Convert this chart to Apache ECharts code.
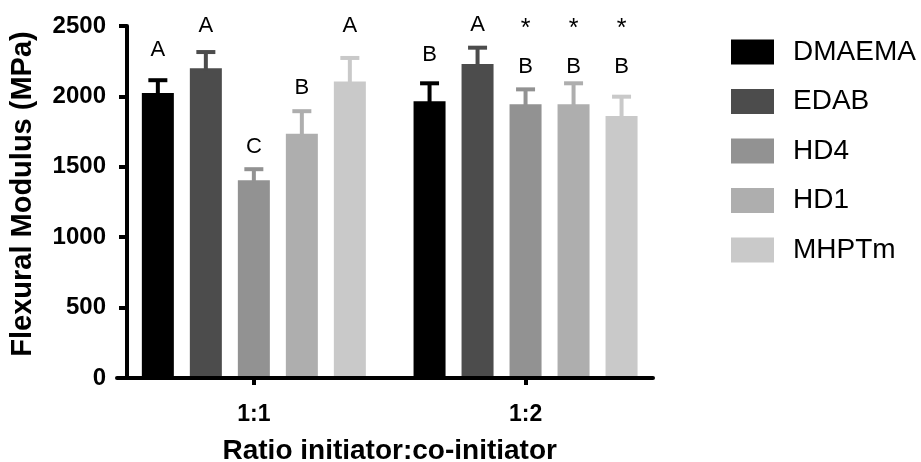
<!DOCTYPE html>
<html>
<head>
<meta charset="utf-8">
<script src="https://cdn.jsdelivr.net/npm/echarts@6/dist/echarts.min.js"></script>
<style>html,body{margin:0;padding:0;background:#fff}#c{width:921px;height:462px}</style>
</head>
<body>
<div id="c"></div>
<script>
const categories = ['1:1', '1:2'];
const seriesNames = ['DMAEMA', 'EDAB', 'HD4', 'HD1', 'MHPTm'];
const yTicks = [0, 500, 1000, 1500, 2000, 2500];

// mean flexural modulus (MPa)
const meanDMAEMA = [2025, 1965];
const meanEDAB   = [2200, 2230];
const meanHD4    = [1405, 1945];
const meanHD1    = [1735, 1945];
const meanMHPTm  = [2105, 1860];

// standard deviation (upper error bar, MPa)
const sdDMAEMA = [90, 128];
const sdEDAB   = [115, 116];
const sdHD4    = [78, 105];
const sdHD1    = [160, 148];
const sdMHPTm  = [168, 138];

// statistical letters and the level (MPa) at which they are written
const letDMAEMA = ['A', 'B'];
const letEDAB   = ['A', 'A'];
const letHD4    = ['C', 'B'];
const letHD1    = ['B', 'B'];
const letMHPTm  = ['A', 'B'];
const lvlDMAEMA = [2330, 2294];
const lvlEDAB   = [2500, 2507];
const lvlHD4    = [1640, 2210];
const lvlHD1    = [2060, 2210];
const lvlMHPTm  = [2500, 2210];

// asterisks (group 1:2 only)
const starMarks = [['', '', '', '', ''], ['', '', '*', '*', '*']];
const starLevel = 2481;

const means = [meanDMAEMA, meanEDAB, meanHD4, meanHD1, meanMHPTm];
const sds = [sdDMAEMA, sdEDAB, sdHD4, sdHD1, sdMHPTm];
const lets = [letDMAEMA, letEDAB, letHD4, letHD1, letMHPTm];
const lvls = [lvlDMAEMA, lvlEDAB, lvlHD4, lvlHD1, lvlMHPTm];

const colors = ['#000000', '#4c4c4c', '#929292', '#aeaeae', '#c9c9c9'];
const FONT = "'Liberation Sans', Arial, Helvetica, sans-serif";
const BAR_W = 32, GAP_RATIO = 0.5;
const PITCH = BAR_W * (1 + GAP_RATIO);

const errData = [];
const textData = [];
const textStr = [];
const textSize = [];
for (let s = 0; s < seriesNames.length; s++) {
  for (let c = 0; c < categories.length; c++) {
    errData.push([c, means[s][c], sds[s][c], s]);
    textData.push([c, lvls[s][c], s]);
    textStr.push(lets[s][c]);
    textSize.push(22);
    if (starMarks[c][s]) {
      textData.push([c, starLevel, s]);
      textStr.push(starMarks[c][s]);
      textSize.push(25);
    }
  }
}

const barSeries = seriesNames.map((n, s) => ({
  name: n, type: 'bar', xAxisIndex: 0, yAxisIndex: 0,
  data: means[s], barWidth: BAR_W, barGap: (GAP_RATIO * 100) + '%',
  itemStyle: { color: colors[s] }, z: 2
}));

const chart = echarts.init(document.getElementById('c'));
chart.setOption({
  animation: false,
  backgroundColor: '#fff',
  grid: [
    { left: 118, right: 259.6, top: 26, bottom: 84, containLabel: false, outerBoundsMode: 'none' },
    { left: 117, right: 268, top: 26, bottom: 84, containLabel: false, outerBoundsMode: 'none' }
  ],
  legend: {
    data: seriesNames, orient: 'vertical', left: 731, top: 38, padding: 0,
    itemWidth: 43, itemHeight: 25, itemGap: 21.5, icon: 'rect',
    textStyle: { fontSize: 28, fontFamily: FONT, color: '#000', padding: [0, 0, 0, 14], lineHeight: 25 }
  },
  xAxis: [
    {
      type: 'category', gridIndex: 0, data: categories,
      axisLine: { show: false },
      axisTick: { show: true, alignWithLabel: true, length: 7, lineStyle: { color: '#000', width: 4 } },
      axisLabel: { fontSize: 23, fontWeight: 'bold', fontFamily: FONT, color: '#000', margin: 25 },
      name: 'Ratio initiator:co-initiator', nameLocation: 'middle', nameGap: 59,
      nameTextStyle: { fontSize: 28, fontWeight: 'bold', fontFamily: FONT, color: '#000' }
    },
    {
      type: 'value', gridIndex: 1, min: 0, max: 1, z: 10,
      axisLine: { show: true, lineStyle: { color: '#000', width: 4 } },
      axisTick: { show: false }, axisLabel: { show: false }, splitLine: { show: false }
    }
  ],
  yAxis: [
    {
      type: 'value', gridIndex: 0, min: yTicks[0], max: yTicks[yTicks.length - 1],
      interval: yTicks[1] - yTicks[0], offset: -9, z: 10,
      axisLine: { show: true, lineStyle: { color: '#000', width: 4 } },
      axisTick: { show: true, length: 8, lineStyle: { color: '#000', width: 4 } },
      axisLabel: { fontSize: 24, fontWeight: 'bold', fontFamily: FONT, color: '#000', margin: 21,
        formatter: function (v) { return String(v); } },
      splitLine: { show: false },
      name: 'Flexural Modulus (MPa)', nameLocation: 'middle', nameRotate: 90, nameGap: 90,
      nameTextStyle: { fontSize: 29, fontWeight: 'bold', fontFamily: FONT, color: '#000', padding: [0, 0, 0, 16] }
    },
    { type: 'value', gridIndex: 1, show: false, min: 0, max: 1 }
  ],
  series: barSeries.concat([
    {
      type: 'custom', xAxisIndex: 0, yAxisIndex: 0, z: 3,
      data: errData, encode: { x: 0, y: 1 },
      renderItem: function (params, api) {
        const c = api.value(0), m = api.value(1), e = api.value(2), s = api.value(3);
        const p0 = api.coord([c, m]);
        const p1 = api.coord([c, m + e]);
        const x = p0[0] + (s - (seriesNames.length - 1) / 2) * PITCH;
        const st = { stroke: colors[s], lineWidth: 4 };
        return {
          type: 'group',
          children: [
            { type: 'line', shape: { x1: x, y1: p0[1] + 2, x2: x, y2: p1[1] }, style: st },
            { type: 'line', shape: { x1: x - 9.5, y1: p1[1], x2: x + 9.5, y2: p1[1] }, style: st }
          ]
        };
      }
    },
    {
      type: 'custom', xAxisIndex: 0, yAxisIndex: 0, z: 4,
      data: textData, encode: { x: 0, y: 1 },
      renderItem: function (params, api) {
        const c = api.value(0), l = api.value(1), s = api.value(2);
        const p = api.coord([c, l]);
        const x = p[0] + (s - (seriesNames.length - 1) / 2) * PITCH;
        return {
          type: 'text', x: x, y: p[1],
          style: {
            text: textStr[params.dataIndex], fontSize: textSize[params.dataIndex], fontFamily: FONT, fill: '#000',
            align: 'center', verticalAlign: 'middle'
          }
        };
      }
    }
  ])
});
</script>
</body>
</html>
